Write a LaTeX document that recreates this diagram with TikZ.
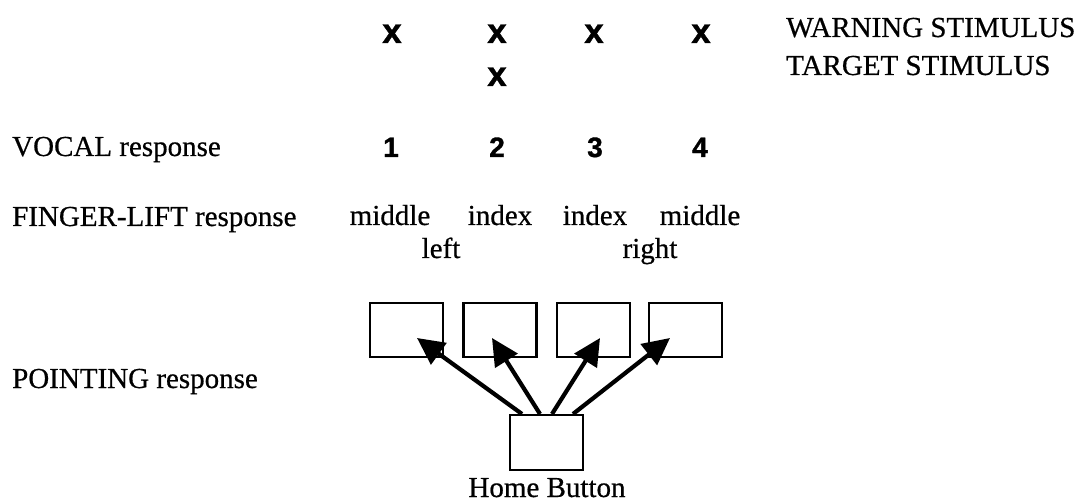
\documentclass[tikz,border=0pt]{standalone}
\usepackage{fontspec}
\setmainfont[FakeBold=0.6]{Liberation Serif}
\newfontfamily\numfont[FakeBold=1.2]{Liberation Sans}
\usetikzlibrary{arrows.meta}
\begin{document}
\begin{tikzpicture}[x=1pt,y=-1pt,
  lbl/.style={anchor=base west, inner sep=0pt, font=\fontsize{29}{33}\selectfont},
  txt/.style={anchor=base, inner sep=0pt, font=\fontsize{29}{33}\selectfont},
  xmk/.style={anchor=base, inner sep=0pt, font=\numfont\bfseries\fontsize{35}{38}\selectfont},
  num/.style={anchor=base, inner sep=0pt, font=\numfont\bfseries\fontsize{28}{32}\selectfont},
  keybox/.style={draw, line width=2.7pt, minimum width=73pt, minimum height=54pt, inner sep=0pt},
  pointer/.style={line width=4.2pt, -{Triangle[length=27pt,width=26pt]}}
]
\useasboundingbox (0,0) rectangle (1089,502);
\fill[white] (0,0) rectangle (1089,502);

% stimuli
\node[xmk] (w1) at (392,43) {x};
\node[xmk] (w2) at (497,43) {x};
\node[xmk] (w3) at (594,43) {x};
\node[xmk] (w4) at (701,43) {x};
\node[xmk] (t2) at (497,86) {x};
\node[lbl] (warn) at (786,37) {WARNING STIMULUS};
\node[lbl] (targ) at (786,75) {TARGET STIMULUS};

% vocal
\node[lbl] (vocal) at (12,156) {VOCAL response};
\node[num] (n1) at (391,157) {1};
\node[num] (n2) at (497,157) {2};
\node[num] (n3) at (595,157) {3};
\node[num] (n4) at (700,157) {4};

% finger-lift
\node[lbl] (finger) at (12,226) {FINGER-LIFT response};
\node[txt] (f1) at (390,225) {middle};
\node[txt] (f2) at (500,225) {index};
\node[txt] (f3) at (595,225) {index};
\node[txt] (f4) at (700,225) {middle};
\node[txt] (left) at (441,258) {left};
\node[txt] (right) at (650,258) {right};

% pointing
\node[lbl] (point) at (12,388) {POINTING response};
\node[keybox] (b1) at (406.5,330) {};
\node[keybox] (b2) at (500,330) {};
\node[keybox] (b3) at (593.5,330) {};
\node[keybox] (b4) at (685.5,330) {};
\node[keybox, minimum height=55pt] (home) at (546.5,442.5) {};
\node[txt] (hometxt) at (547,497) {Home Button};

\coordinate (s1) at (522,414);
\coordinate (s2) at (540,414);
\coordinate (s3) at (552,414);
\coordinate (s4) at (573,414);
\coordinate (e1) at (417,338);
\coordinate (e2) at (492,338);
\coordinate (e3) at (600,338);
\coordinate (e4) at (670,338);
\draw[pointer] (s1) -- (e1);
\draw[pointer] (s2) -- (e2);
\draw[pointer] (s3) -- (e3);
\draw[pointer] (s4) -- (e4);
\end{tikzpicture}
\end{document}
